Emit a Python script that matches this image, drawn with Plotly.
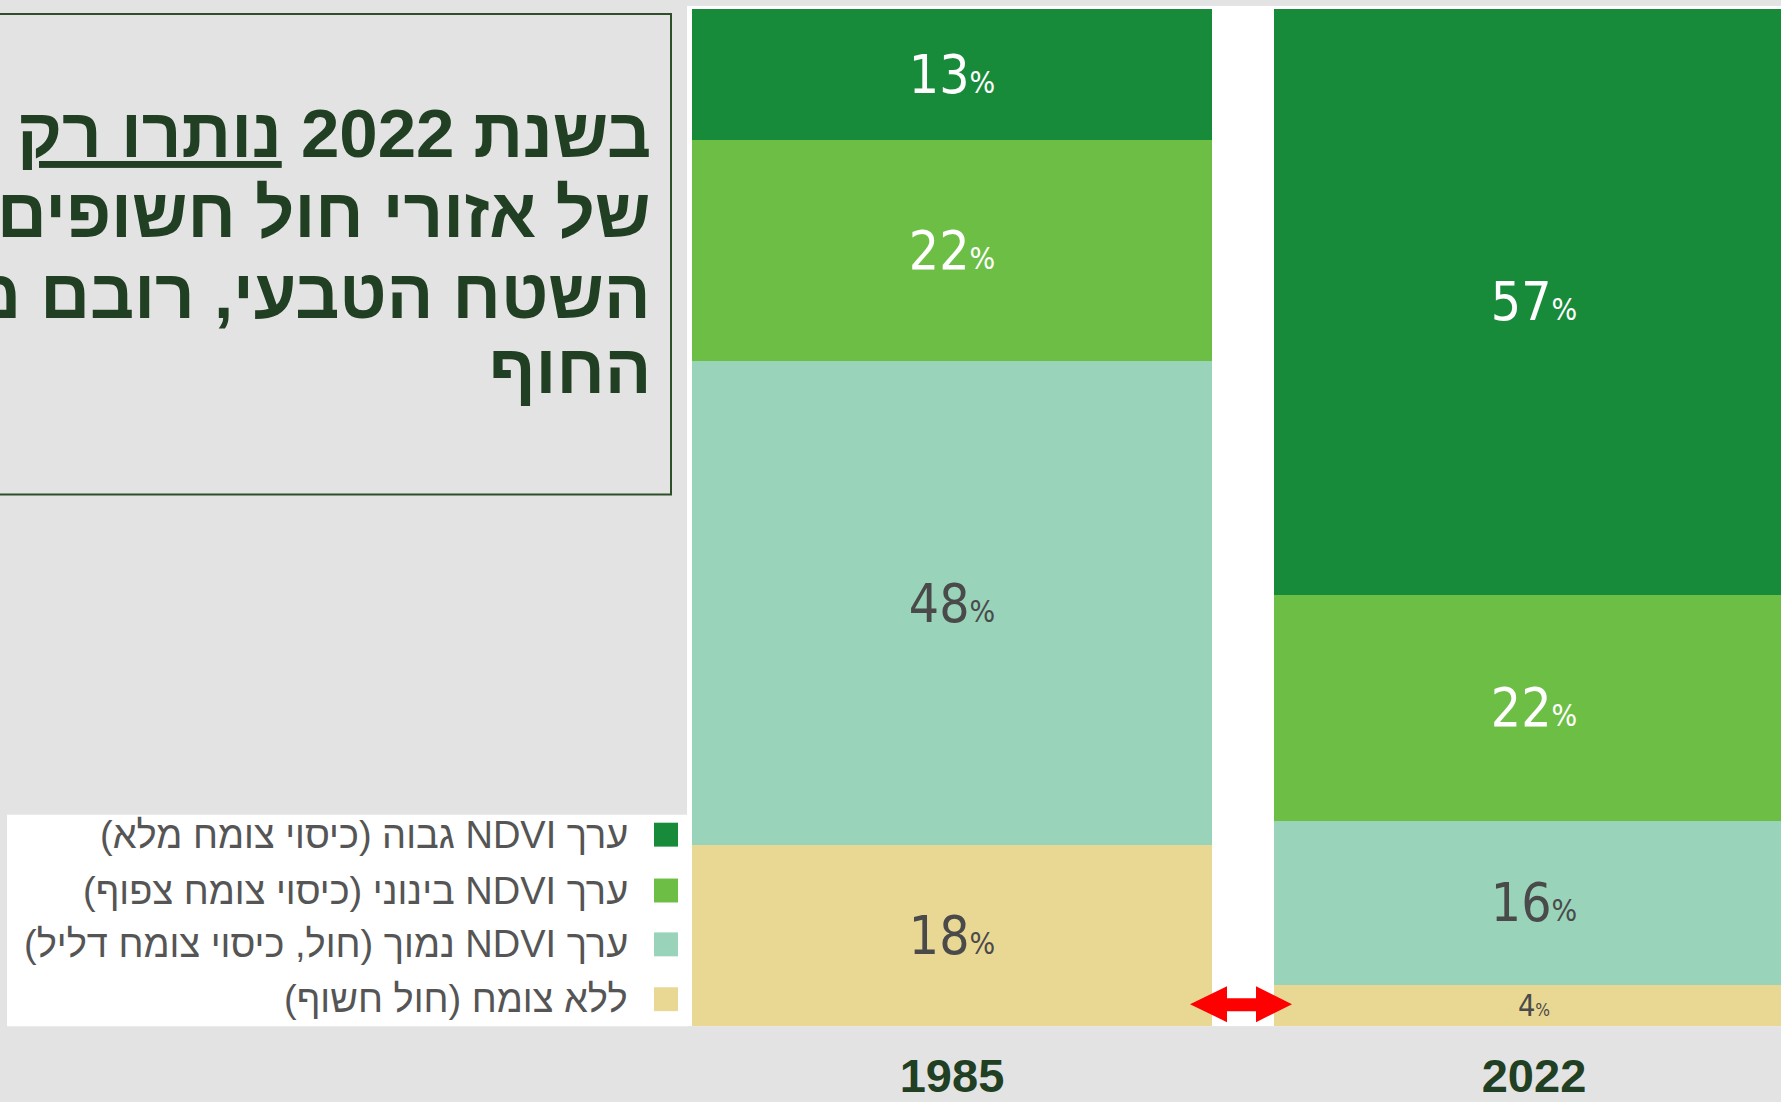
import plotly.graph_objects as go

# ---------------- data ----------------
years = ["1985", "2022"]
categories = [
    "ללא צומח (חול חשוף)",
    "ערך NDVI נמוך (חול, כיסוי צומח דליל)",
    "ערך NDVI בינוני (כיסוי צומח צפוף)",
    "ערך NDVI גבוה (כיסוי צומח מלא)",
]
none_vals = [18, 4]
low_vals = [48, 16]
medium_vals = [22, 22]
high_vals = [13, 57]
series_values = [none_vals, low_vals, medium_vals, high_vals]
title_lines = [
    "בשנת 2022 <span style='text-decoration:underline'>נותרו רק</span>",
    "של אזורי חול חשופים",
    "השטח הטבעי, רובם מ",
    "החוף",
]

# ---------------- style ----------------
W, H = 1781, 1102
K = 1.0045  # small vertical compensation
colors = ["#E9D894", "#98D3BA", "#6DBE45", "#188B3A"]
label_colors = ["#4A4A4A", "#4A4A4A", "#FFFFFF", "#FFFFFF"]
BG = "#E3E3E3"
DARK = "#213F22"
LABEL_FONT = "DejaVu Sans Condensed, DejaVu Sans, sans-serif"
ARIAL = "Liberation Sans, Arimo, Arial, DejaVu Sans, sans-serif"


def fx(px):
    return px / W


def fy(py):
    return 1 - (py * K) / H


def rtl(s):
    return "\u202b" + s + "\u202c"


PLOT_L, PLOT_R, PLOT_T, PLOT_B = 687, 1781, 6, 1029
BAR1_L, BAR1_R, BAR2_L = 692, 1212, 1274
unit = BAR2_L - BAR1_L
center0 = (BAR1_L + BAR1_R) / 2
bar_w = (BAR1_R - BAR1_L) / unit
x_range = [(PLOT_L - center0) / unit, (PLOT_R - center0) / unit]
y_top = 100 * (PLOT_B - PLOT_T) / (PLOT_B - 9)

fig = go.Figure()
xpos = list(range(len(years)))
for name, vals, col, lc in zip(categories, series_values, colors, label_colors):
    fig.add_trace(go.Bar(
        x=xpos, y=vals, name=name, width=bar_w,
        marker=dict(color=col, line=dict(width=0)),
        text=[f"{v}<span style='font-size:30px'>%</span>" for v in vals],
        textposition="inside", insidetextanchor="middle", textangle=0,
        textfont=dict(family=LABEL_FONT, size=53, color=lc),
        hoverinfo="skip", showlegend=False,
    ))

shapes = []
annotations = []

# title box
shapes.append(dict(type="rect", xref="paper", yref="paper",
                   x0=fx(-40), x1=fx(671), y0=fy(496), y1=fy(14),
                   line=dict(color="#2F4F2A", width=2), fillcolor="rgba(0,0,0,0)", layer="below"))
title_centers = [134, 214, 295, 371]
for line, cy in zip(title_lines, title_centers):
    annotations.append(dict(xref="paper", yref="paper", x=fx(653), y=fy(cy),
                            xanchor="right", yanchor="middle", showarrow=False,
                            text=rtl(line),
                            font=dict(family=ARIAL, size=69, color=DARK, weight="bold")))

# legend box
shapes.append(dict(type="rect", xref="paper", yref="paper",
                   x0=fx(7), x1=fx(PLOT_L + 1), y0=fy(PLOT_B), y1=fy(817),
                   line=dict(width=0), fillcolor="#FFFFFF", layer="below"))
leg_centers = [1002, 947, 893, 837]
for name, col, cy in zip(categories, colors, leg_centers):
    shapes.append(dict(type="rect", xref="paper", yref="paper",
                       x0=fx(654), x1=fx(678), y0=fy(cy + 12), y1=fy(cy - 12),
                       line=dict(width=0), fillcolor=col))
    annotations.append(dict(xref="paper", yref="paper", x=fx(630), y=fy(cy),
                            xanchor="right", yanchor="middle", showarrow=False,
                            text=rtl(name),
                            font=dict(family=ARIAL, size=38, color="#555555")))

# red double arrow between the bars
pts = [(1190, 1007), (1227, 989), (1227, 1001), (1256, 1001), (1256, 989), (1292, 1007),
       (1256, 1025), (1256, 1014), (1227, 1014), (1227, 1025)]
path = "M " + " L ".join(f"{fx(a):.5f},{fy(b):.5f}" for a, b in pts) + " Z"
shapes.append(dict(type="path", xref="paper", yref="paper", path=path,
                   fillcolor="#FF0000", line=dict(width=0)))

fig.update_layout(
    width=W, height=H, autosize=False,
    barmode="stack", barnorm="percent",
    paper_bgcolor=BG, plot_bgcolor="#FFFFFF",
    margin=dict(l=0, r=0, t=0, b=0),
    xaxis=dict(domain=[fx(PLOT_L), 1], range=x_range, tickvals=xpos, ticktext=years,
               showgrid=False, zeroline=False, showline=False, ticks="",
               ticklabelstandoff=18,
               tickfont=dict(family=ARIAL, size=47, color=DARK, weight="bold")),
    yaxis=dict(domain=[fy(PLOT_B), fy(PLOT_T)], range=[0, y_top],
               showgrid=False, zeroline=False, showline=False, showticklabels=False),
    shapes=shapes, annotations=annotations,
    showlegend=False,
)

post = (
    "document.documentElement.style.margin='0';"
    "document.documentElement.style.padding='0';"
    "document.documentElement.style.overflow='hidden';"
    "document.documentElement.style.height='1102px';"
    "document.body.style.margin='0';"
    "document.body.style.padding='0';"
    "document.body.style.overflow='hidden';"
    "document.body.style.height='1102px';"
    "document.body.style.lineHeight='0';"
)
fig.write_html(
    "out.html",
    config={"responsive": False, "displayModeBar": False},
    post_script=post,
)
